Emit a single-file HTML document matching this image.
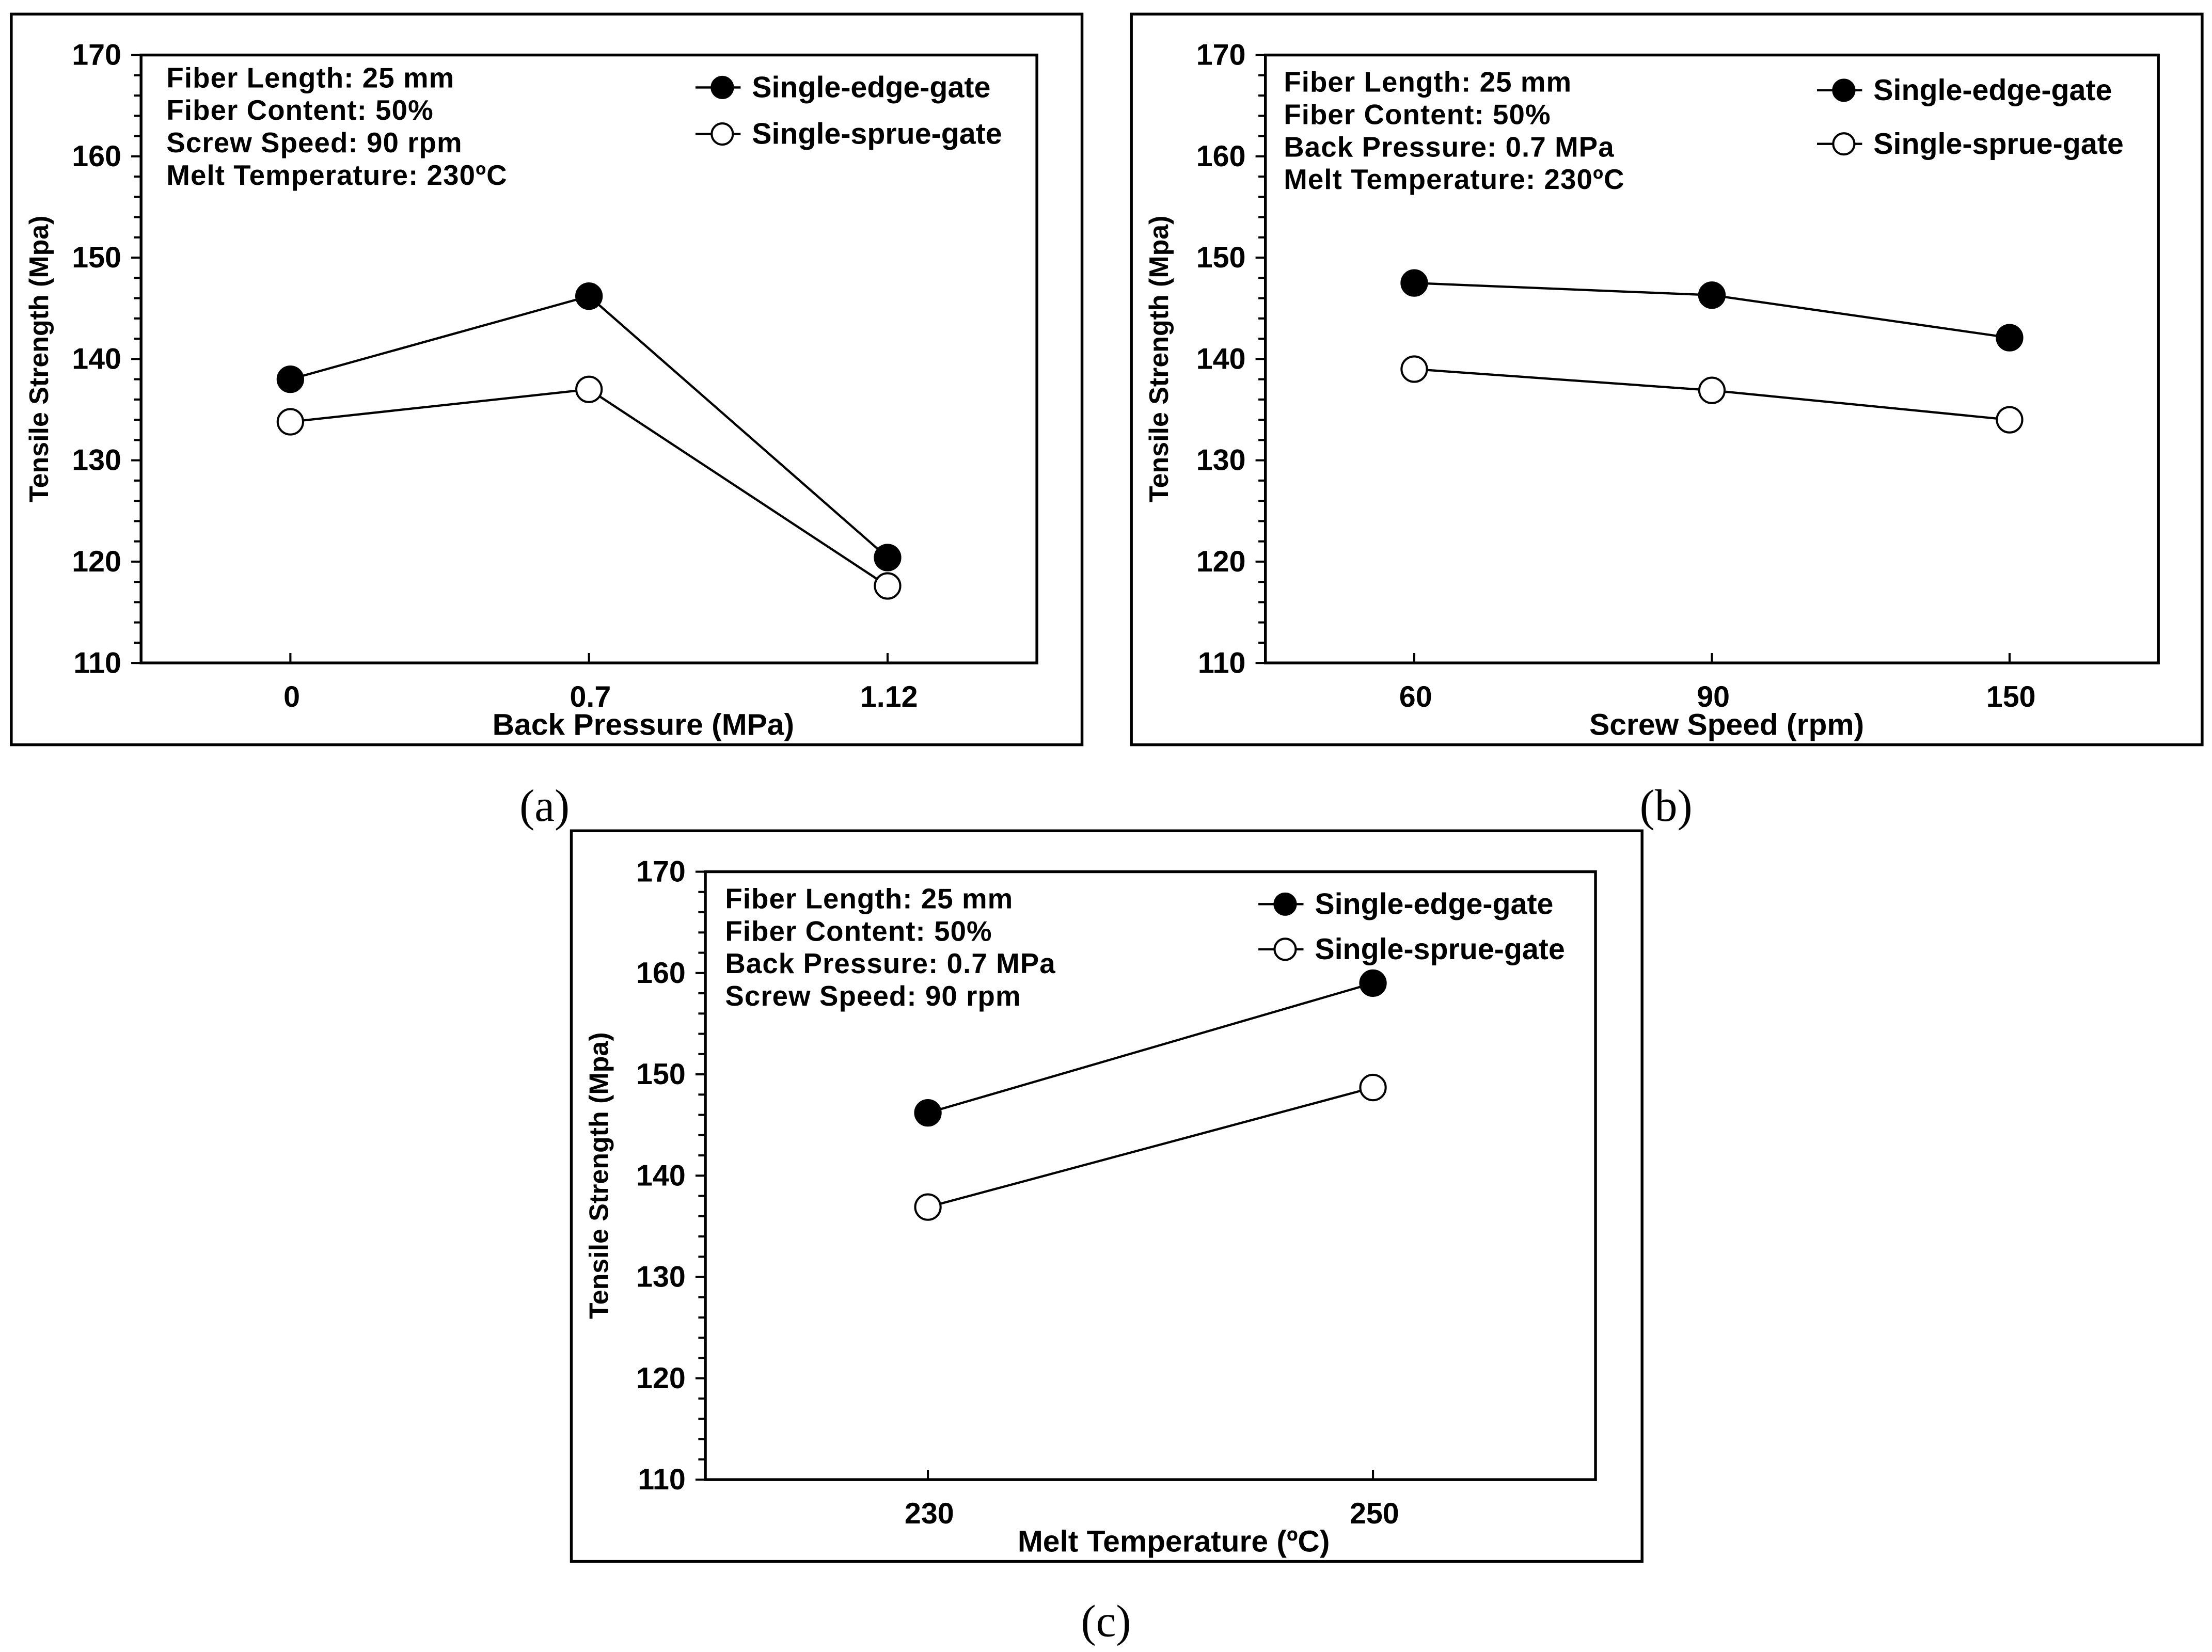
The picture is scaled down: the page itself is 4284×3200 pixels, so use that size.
<!DOCTYPE html>
<html><head><meta charset="utf-8"><style>
html,body{margin:0;padding:0;background:#fff}
svg{display:block}
text{font-family:"Liberation Sans",Arial,sans-serif;font-weight:bold;fill:#000}
.cap{font-family:"Liberation Serif",serif;font-weight:normal}
</style></head><body>
<svg id="fig" width="4284" height="3200" viewBox="0 0 1568 1171.2" preserveAspectRatio="none" xmlns="http://www.w3.org/2000/svg"></svg>
<script>
const catsA = ["0","0.7","1.12"];
const edgeA = [138, 146.2, 120.4];
const sprueA = [133.8, 137, 117.6];
const catsB = ["60","90","150"];
const edgeB = [147.5, 146.3, 142.1];
const sprueB = [139, 136.9, 134];
const catsC = ["230","250"];
const edgeC = [146.2, 159];
const sprueC = [136.9, 148.7];
const yTicks = [110,120,130,140,150,160,170];

const NS="http://www.w3.org/2000/svg";
const svg=document.getElementById('fig');
function mk(tag,attrs,parent,txt){const e=document.createElementNS(NS,tag);for(const k in attrs)e.setAttribute(k,attrs[k]);if(txt!==undefined)e.textContent=txt;(parent||svg).appendChild(e);return e;}

const panels=[
 {id:'a',ox:8,oy:10,l:100,t:39,r:735,b:470,cats:catsA,edge:edgeA,sprue:sprueA,xt:'Back Pressure (MPa)',xtx:456,
  notes:['Fiber Length:  25 mm','Fiber Content:  50%','Screw Speed:  90 rpm','Melt Temperature:  230ºC'],
  nx:118,ny:62,lgx:512,lgy:[62,95],cap:[386,582]},
 {id:'b',ox:802,oy:10,l:897,t:39,r:1530,b:470,cats:catsB,edge:edgeB,sprue:sprueB,xt:'Screw Speed (rpm)',xtx:1224,
  notes:['Fiber Length:  25 mm','Fiber Content:  50%','Back Pressure: 0.7 MPa','Melt Temperature:  230ºC'],
  nx:910,ny:65,lgx:1307,lgy:[64,102],cap:[1181,582]},
 {id:'c',ox:405,oy:589,l:500,t:618,r:1131,b:1049,cats:catsC,edge:edgeC,sprue:sprueC,xt:'Melt Temperature (ºC)',xtx:832,
  notes:['Fiber Length:  25 mm','Fiber Content:  50%','Back Pressure: 0.7 MPa','Screw Speed:  90 rpm'],
  nx:514,ny:644,lgx:911,lgy:[641,673],cap:[784,1160]}
];

panels.forEach(p=>{
 const g=mk('g',{});
 
 
 const ob=mk('rect',{x:p.ox,y:p.oy,width:759,height:518,fill:'none',stroke:'#000','stroke-width':2},g);
 
 const ys=v=>p.b-(v-110)/60*(p.b-p.t);
 const xs=i=>p.l+(i+0.5)*(p.r-p.l)/p.cats.length;
 const pb=mk('rect',{x:p.l,y:p.t,width:p.r-p.l,height:p.b-p.t,fill:'none',stroke:'#000','stroke-width':2},g);
 
 for(let v=110;v<=170;v+=2){const major=(v%10===0);
  mk('line',{x1:p.l-(major?7:5),x2:p.l,y1:ys(v),y2:ys(v),stroke:'#000','stroke-width':1.5},g);}
 yTicks.forEach(v=>{const t=mk('text',{x:p.l-14,y:ys(v)+7,'text-anchor':'end','font-size':21},g,String(v));
  });
 p.cats.forEach((c,i)=>{mk('line',{x1:xs(i),x2:xs(i),y1:p.b,y2:p.b-7,stroke:'#000','stroke-width':1.5},g);
  const t=mk('text',{x:xs(i)+1,y:p.b+31,'text-anchor':'middle','font-size':21},g,c);
  });
 const yt=mk('text',{x:0,y:0,'text-anchor':'middle','font-size':19,transform:`translate(${p.ox+26},${(p.t+p.b)/2}) rotate(-90)`},g,'Tensile Strength (Mpa)');
 
 const xt=mk('text',{x:p.xtx,y:p.b+51,'text-anchor':'middle','font-size':21.5},g,p.xt);
 
 p.notes.forEach((n,i)=>{const t=mk('text',{x:p.nx,y:p.ny+i*23,'font-size':20,'letter-spacing':0.4},g,n);
  });
 [['edge',p.edge,'#000','Single-edge-gate'],['sprue',p.sprue,'#fff','Single-sprue-gate']].forEach((s,si)=>{
  const sg=mk('g',{},g);
  
  
  const pts=s[1].map((v,i)=>xs(i)+','+ys(v)).join(' ');
  mk('polyline',{points:pts,fill:'none',stroke:'#000','stroke-width':1.6},sg);
  s[1].forEach((v,i)=>{const c=mk('circle',{cx:xs(i),cy:ys(v),r:9,fill:s[2],stroke:'#000','stroke-width':1.5},sg);
   });
  const lg=mk('g',{},g);
  
  
  const ly=p.lgy[si];
  mk('line',{x1:p.lgx-19,x2:p.lgx+13,y1:ly,y2:ly,stroke:'#000','stroke-width':1.6},lg);
  mk('circle',{cx:p.lgx,cy:ly,r:7.5,fill:s[2],stroke:'#000','stroke-width':1.5},lg);
  mk('text',{x:p.lgx+21,y:ly+7,'font-size':21},lg,s[3]);
 });
 const cp=mk('text',{x:p.cap[0],y:p.cap[1],'text-anchor':'middle','font-size':32,class:'cap'},svg,'('+p.id+')');
 
});
</script>
</body></html>
